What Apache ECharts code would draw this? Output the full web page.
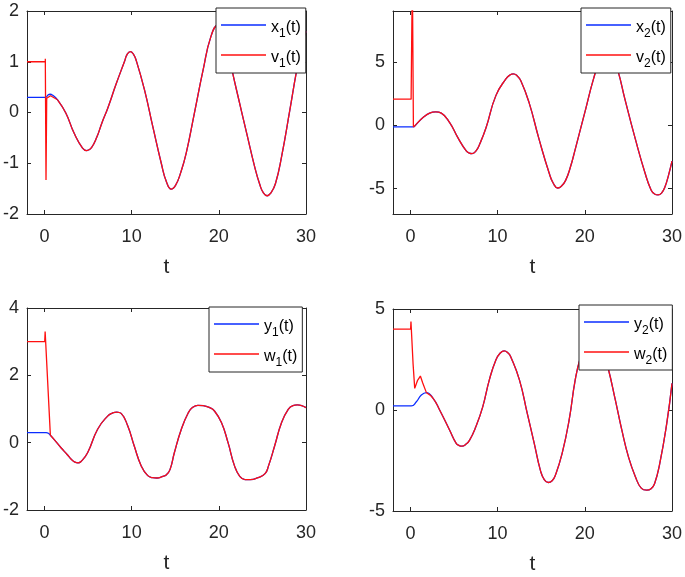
<!DOCTYPE html>
<html>
<head>
<meta charset="utf-8">
<script src="https://cdn.jsdelivr.net/npm/echarts@6/dist/echarts.min.js"></script>
<style>html,body{margin:0;padding:0;background:#fff}#c{width:685px;height:577px}</style>
</head>
<body>
<div id="c"></div>
<script>
// ---------------- data ----------------
const xTicks = [0, 10, 20, 30];
const y1Ticks = [-2, -1, 0, 1, 2];
const y2Ticks = [-5, 0, 5];
const y3Ticks = [-2, 0, 2, 4];
const y4Ticks = [-5, 0, 5];

// panel 1 : x1(t) and v1(t)
const x1 = [[-2,0.3],[0.15,0.3],[0.4,0.345],[0.65,0.36],[0.95,0.34],[1.5,0.25],[2.45,-0.01],[3.41,-0.41],[4.37,-0.7],[4.87,-0.75],[5.4,-0.69],[6.0,-0.49],[6.6,-0.2],[7.25,0.08],[8.2,0.55],[9.17,1.0],[9.5,1.15],[9.86,1.2],[10.2,1.15],[10.5,1.04],[11.47,0.45],[12.43,-0.28],[13.4,-1.0],[14.0,-1.37],[14.54,-1.51],[15.05,-1.43],[15.6,-1.2],[16.26,-0.8],[17.2,-0.01],[18.2,0.84],[19.1,1.5],[19.9,1.72],[20.7,1.5],[21.56,0.8],[22.2,0.32],[23.2,-0.41],[24.1,-1.06],[24.7,-1.42],[25.1,-1.58],[25.55,-1.64],[26.0,-1.58],[26.5,-1.4],[27.2,-0.87],[28.15,0.05],[28.9,0.8],[29.5,1.3],[30,1.6]];
const v1Early = [[-2,1],[0.1,1],[0.1,1.06],[0.18,1.06],[0.18,-1.33],[0.26,0.28],[0.7,0.33],[1.5,0.25]];
const v1Join = 1.5;

// panel 2 : x2(t) and v2(t)
const x2 = [[-2,-0.13],[0.3,-0.13],[0.68,0.08],[1.44,0.6],[2.2,0.95],[2.9,1.05],[3.54,0.95],[4.5,0.2],[5.44,-0.98],[6.4,-2.03],[6.75,-2.2],[7.07,-2.24],[7.5,-2.05],[8.0,-1.4],[8.67,-0.2],[9.8,2.33],[10.95,3.65],[11.4,3.95],[11.8,4.05],[12.2,3.92],[12.66,3.5],[13.6,1.8],[14.75,-1.1],[15.9,-3.75],[16.4,-4.6],[16.9,-4.95],[17.35,-4.78],[17.8,-4.35],[18.35,-3.3],[18.9,-1.9],[20.1,1.27],[21.0,3.65],[21.7,5.0],[22.5,5.7],[23.2,5.3],[23.8,4.28],[24.6,2.06],[25.8,-1.1],[26.9,-3.75],[27.6,-5.1],[28.0,-5.42],[28.4,-5.5],[28.8,-5.35],[29.2,-4.85],[29.6,-3.95],[30,-2.83]];
const v2Early = [[-2,2.05],[0.08,2.05],[0.08,2.25],[0.22,2.25],[0.22,12],[0.34,12],[0.34,-0.15],[0.68,0.08]];
const v2Join = 0.68;

// panel 3 : y1(t) and w1(t)
const y1 = [[-2,0.3],[0.2,0.3],[0.45,0.28],[0.68,0.22],[1.1,0.1],[1.9,-0.15],[2.6,-0.35],[3.1,-0.5],[3.5,-0.58],[3.85,-0.6],[4.2,-0.56],[4.95,-0.3],[6.1,0.4],[7.25,0.79],[7.8,0.88],[8.3,0.91],[8.8,0.87],[9.55,0.5],[10.3,-0.1],[11.1,-0.69],[11.85,-0.98],[12.4,-1.04],[12.9,-1.05],[13.5,-1.01],[14.0,-0.95],[14.4,-0.8],[14.9,-0.3],[15.7,0.4],[16.5,0.89],[17.0,1.05],[17.6,1.11],[18.2,1.1],[18.95,1.04],[19.5,0.94],[20.3,0.6],[21.06,0],[21.8,-0.69],[22.4,-1.0],[23.0,-1.1],[23.6,-1.1],[24.5,-1.04],[25.3,-0.92],[25.7,-0.69],[26.4,-0.1],[27.2,0.6],[27.96,0.99],[28.5,1.1],[29.0,1.12],[29.5,1.1],[30,1.04]];
const w1Early = [[-2,3],[0.03,3],[0.08,3.3],[0.68,0.22]];
const w1Join = 0.68;

// panel 4 : y2(t) and w2(t)
const y2 = [[-2,0.2],[0.1,0.2],[0.68,0.41],[1.25,0.74],[1.83,0.86],[2.6,0.58],[3.35,0],[4.5,-1.0],[5.25,-1.65],[5.6,-1.76],[5.93,-1.79],[6.3,-1.72],[6.77,-1.5],[7.5,-0.83],[8.3,0.17],[9.05,1.49],[9.8,2.48],[10.3,2.82],[10.76,2.93],[11.2,2.82],[11.5,2.64],[12.5,1.49],[13.4,-0.17],[14.2,-1.65],[14.9,-2.98],[15.35,-3.45],[15.8,-3.59],[16.25,-3.5],[16.65,-3.2],[17.4,-2.15],[18.2,-0.5],[18.9,1.49],[19.5,2.6],[20.3,3.5],[21,3.8],[21.8,3.4],[22.7,2.03],[23.5,0.5],[24.25,-1.0],[25.0,-2.31],[25.8,-3.3],[26.5,-3.88],[27.1,-3.97],[27.6,-3.9],[28.0,-3.65],[28.6,-2.64],[29.4,-0.66],[30,1.32]];
const w2Early = [[-2,4],[0.02,4],[0.06,4.38],[0.3,2.3],[0.49,1.07],[0.8,1.45],[1.14,1.68],[1.4,1.35],[1.83,0.86]];
const w2Join = 1.83;

const names = [['x1(t)','v1(t)'],['x2(t)','v2(t)'],['y1(t)','w1(t)'],['y2(t)','w2(t)']];

// ---------------- layout / style ----------------
const FONT = '"Liberation Sans", Arial, Helvetica, sans-serif';
const AX = '#262626';
const BLUE = '#0a2cff';
const RED = '#ff1010';

const panels = [
  {grid:{left:26, top:11, width:280, height:203}, ymin:-2, ymax:2, yt:y1Ticks, blue:x1, early:v1Early, join:v1Join, legend:{left:216, top:8}},
  {grid:{left:393, top:11, width:281, height:203}, ymin:-7, ymax:9, yt:y2Ticks, blue:x2, early:v2Early, join:v2Join, legend:{left:581, top:8}},
  {grid:{left:26, top:308, width:280, height:202}, ymin:-2, ymax:4, yt:y3Ticks, blue:y1, early:w1Early, join:w1Join, legend:{left:209, top:307}},
  {grid:{left:393, top:309, width:281, height:202}, ymin:-5, ymax:5, yt:y4Ticks, blue:y2, early:w2Early, join:w2Join, legend:{left:579, top:305}}
];

const grids = [], xAxes = [], yAxes = [], series = [], legends = [];
const lineAx = {onZero:false, lineStyle:{color:AX, width:1}};
const labelStyle = {fontSize:18, color:AX, fontFamily:FONT};

panels.forEach((p, i) => {
  grids.push(Object.assign({containLabel:false}, p.grid));
  xAxes.push({type:'value', gridIndex:i, min:-2, max:30, position:'bottom',
    axisLine:lineAx, splitLine:{show:false},
    axisTick:{inside:true, length:4, customValues:xTicks, lineStyle:{color:AX}},
    axisLabel:Object.assign({customValues:xTicks, margin:14}, labelStyle),
    name:'t', nameLocation:'middle', nameGap:43,
    nameTextStyle:{fontSize:21, color:AX, fontFamily:FONT}});
  xAxes.push({type:'value', gridIndex:i, min:-2, max:30, position:'top',
    axisLine:lineAx, splitLine:{show:false},
    axisTick:{inside:true, length:4, customValues:xTicks, lineStyle:{color:AX}},
    axisLabel:{show:false}});
  yAxes.push({type:'value', gridIndex:i, min:p.ymin, max:p.ymax, position:'left',
    axisLine:lineAx, splitLine:{show:false},
    axisTick:{inside:true, length:4, customValues:p.yt, lineStyle:{color:AX}},
    axisLabel:Object.assign({customValues:p.yt, margin:8}, labelStyle)});
  yAxes.push({type:'value', gridIndex:i, min:p.ymin, max:p.ymax, position:'right',
    axisLine:lineAx, splitLine:{show:false},
    axisTick:{inside:true, length:4, customValues:p.yt, lineStyle:{color:AX}},
    axisLabel:{show:false}});

  const [bn, rn] = names[i];
  const common = {type:'line', xAxisIndex:2*i, yAxisIndex:2*i, symbol:'none', clip:true, animation:false};
  series.push(Object.assign({}, common, {name:bn, data:p.blue, smooth:0.5,
    lineStyle:{color:BLUE, width:1.3}, itemStyle:{color:BLUE}}));
  series.push(Object.assign({}, common, {name:rn, data:p.early, smooth:false,
    lineStyle:{color:RED, width:1.3}, itemStyle:{color:RED}}));
  series.push(Object.assign({}, common, {name:rn, data:p.blue.filter(d => d[0] >= p.join), smooth:0.5,
    lineStyle:{color:RED, width:1.3}, itemStyle:{color:RED}}));

  legends.push({show:true, left:p.legend.left, top:p.legend.top, orient:'vertical',
    data:[bn, rn], selectedMode:false, icon:'rect',
    itemWidth:45, itemHeight:1.5, itemGap:0,
    padding:[2,5,3,5],
    borderColor:AX, borderWidth:1, backgroundColor:'#fff',
    formatter: n => n.replace(/^(\w)(\d)(.*)$/, '{m|$1}{s|$2}{m|$3}'),
    textStyle:{color:'#000', fontFamily:FONT, fontSize:16,
      rich:{
        m:{fontSize:16, lineHeight:16, padding:[6,0,0,0], fontFamily:FONT, color:'#000'},
        s:{fontSize:12, lineHeight:12, padding:[18,0,0,0], fontFamily:FONT, color:'#000'}
      }}
  });
});

const chart = echarts.init(document.getElementById('c'), null, {renderer:'canvas'});
chart.setOption({animation:false, backgroundColor:'#fff', grid:grids, xAxis:xAxes, yAxis:yAxes, series:series, legend:legends});
</script>
</body>
</html>
